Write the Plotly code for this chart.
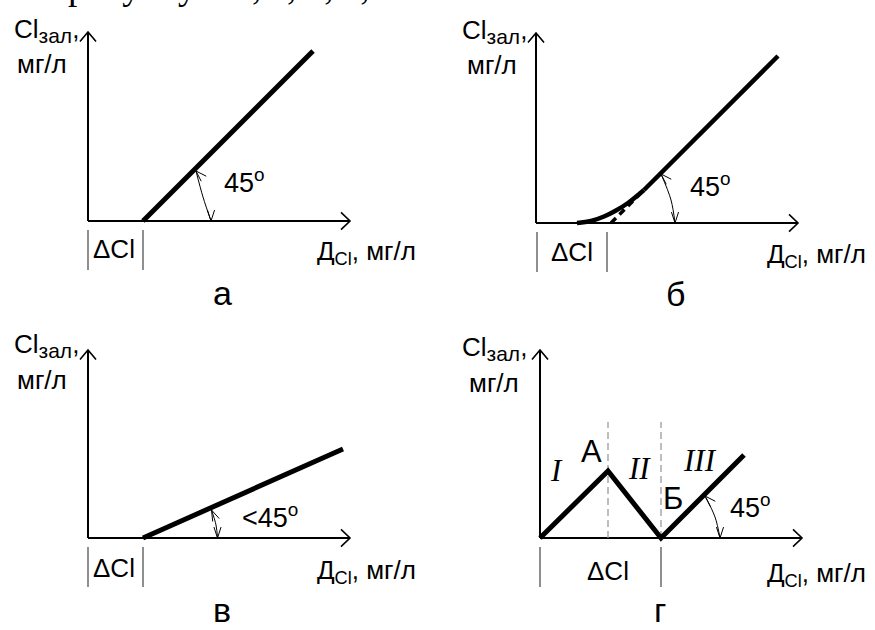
import math
import plotly.graph_objects as go

W, H = 875, 630
PX = 10.0  # screen pixels per chart unit, the same on both axes so slopes keep their angle

SANS = "Liberation Sans, Arial, sans-serif"
SERIF = "Liberation Serif, Times New Roman, serif"
INK = "#000000"

# ---------------- chart data (chart units) ----------------
X_LEN = 26.2                      # length of each Д_Cl axis
Y_LEN = [18.9, 19.0, 18.8, 18.8]  # length of each Cl_зал axis: а, б, в, г

# а: straight 45° rise after the |ΔCl| offset
a_dcl = [0.0, 5.5]
a_x = [5.5, 22.5]
a_y = [0.0, 17.0]

# б: curved start turning into a 45° line, its tangent continued (dashed)
b_dcl = [0.1, 7.1]
b_curve_x = [4.1, 5.5, 6.8, 8.0, 9.2, 10.8]
b_curve_y = [0.0, 0.2, 0.65, 1.25, 2.0, 3.3]
b_line_x = [10.8, 24.2]
b_line_y = [3.3, 16.7]
b_tan_x = [7.5, 10.8]
b_tan_y = [0.0, 3.3]

# в: rise at less than 45°
v_dcl = [0.0, 5.5]
v_x = [5.5, 25.5]
v_y = [0.0, 8.9]

# г: zones I, II, III with break points А and Б
g_dcl = [0.0, 12.1]
g_x = [0.0, 6.8, 12.1, 20.4]
g_y = [0.0, 6.7, 0.0, 8.3]
g_guides = [6.8, 12.1]
g_guide_top = 11.6

# angle markers: arc points from the sloped line down to the Д_Cl axis
a_arc_x, a_arc_y = [10.8, 11.5, 12.3], [5.0, 2.4, 0.0]
b_arc_x, b_arc_y = [12.5, 13.5, 13.9], [4.9, 2.3, 0.0]
v_arc_x, v_arc_y = [12.35, 12.8, 12.95], [2.8, 1.3, 0.0]
g_arc_x, g_arc_y = [16.5, 17.5, 18.0], [4.2, 2.1, 0.0]
arc_slopes = [45.0, 45.0, 24.0, 45.0]   # angle of the line each marker meets

# where each panel's origin sits on the page (px)
ORIGINS = [(88, 221), (536, 223), (88, 538), (540, 538)]

fig = go.Figure()
axes_layout = {}


def suffix(i):
    return "" if i == 1 else str(i)


for i, (ox, oy) in enumerate(ORIGINS, start=1):
    s = suffix(i)
    left, right = ox - 15, ox + 285
    top, bottom = oy - 200, oy + 55
    axes_layout[f"xaxis{s}"] = dict(domain=[left / W, right / W], range=[-1.5, 28.5],
                                    visible=False, anchor=f"y{s}", fixedrange=True)
    axes_layout[f"yaxis{s}"] = dict(domain=[1 - bottom / H, 1 - top / H], range=[-5.5, 20.0],
                                    visible=False, anchor=f"x{s}", fixedrange=True)


def line(i, x, y, width, color=INK, dash="solid", shape="linear"):
    s = suffix(i)
    fig.add_trace(go.Scatter(
        x=x, y=y, mode="lines",
        line=dict(color=color, width=width, dash=dash, shape=shape),
        xaxis=f"x{s}", yaxis=f"y{s}", hoverinfo="skip", showlegend=False))


def vhead(tip, direction, length, half_deg):
    """Open V arrowhead whose apex is at tip, pointing along direction."""
    dx, dy = direction
    n = math.hypot(dx, dy)
    bx, by = -dx / n, -dy / n
    xs, ys = [], []
    for sign in (1, -1):
        a = math.radians(half_deg) * sign
        rx = bx * math.cos(a) - by * math.sin(a)
        ry = bx * math.sin(a) + by * math.cos(a)
        xs.append(tip[0] + length * rx)
        ys.append(tip[1] + length * ry)
    return [xs[0], tip[0], xs[1]], [ys[0], tip[1], ys[1]]


def coord_axes(i):
    ylen = Y_LEN[i - 1]
    line(i, [0, X_LEN], [0, 0], 2)
    line(i, [0, 0], [0, ylen], 2)
    hx, hy = vhead((X_LEN, 0), (1, 0), 1.25, 44)
    line(i, hx, hy, 1.6)
    hx, hy = vhead((0, ylen), (0, 1), 1.25, 40)
    line(i, hx, hy, 1.6)


def dcl_bars(i, xs):
    for xv in xs:
        line(i, [xv, xv], [-0.9, -4.9], 1.1, color="#333333")


def angle_marker(i, ax, ay, slope_deg):
    line(i, ax, ay, 1, shape="spline")
    t = math.radians(slope_deg)
    hx, hy = vhead((ax[0], ay[0]), (-math.sin(t), math.cos(t)), 1.15, 18)
    line(i, hx, hy, 1)
    hx, hy = vhead((ax[-1], ay[-1]), (0, -1), 1.15, 18)
    line(i, hx, hy, 1)


# ---- а ----
coord_axes(1)
dcl_bars(1, a_dcl)
line(1, a_x, a_y, 5)
angle_marker(1, a_arc_x, a_arc_y, arc_slopes[0])

# ---- б ----
coord_axes(2)
dcl_bars(2, b_dcl)
line(2, b_tan_x, b_tan_y, 3.5, dash="7px,5px")
line(2, b_curve_x, b_curve_y, 4.5, shape="spline")
line(2, b_line_x, b_line_y, 4.5)
angle_marker(2, b_arc_x, b_arc_y, arc_slopes[1])

# ---- в ----
coord_axes(3)
dcl_bars(3, v_dcl)
line(3, v_x, v_y, 5)
angle_marker(3, v_arc_x, v_arc_y, arc_slopes[2])

# ---- г ----
coord_axes(4)
dcl_bars(4, g_dcl)
for gx in g_guides:
    line(4, [gx, gx], [0, g_guide_top], 1.3, color="#9a9a9a", dash="7px,4px")
line(4, g_x, g_y, 5)
angle_marker(4, g_arc_x, g_arc_y, arc_slopes[3])

# ---------------- text ----------------
METRICS = {SANS: (0.905, 0.212), SERIF: (0.891, 0.216)}


def text(px_x, px_base, s, size, xanchor="left", family=SANS, kind="plain"):
    asc, desc = METRICS[family]
    if kind == "sub":
        yanchor, y_px = "top", px_base - asc * size - 1
    else:
        yanchor, y_px = "bottom", px_base + desc * size + 1
    fig.add_annotation(x=px_x / W, y=1 - y_px / H, xref="paper", yref="paper",
                       text=s, showarrow=False, xanchor=xanchor, yanchor=yanchor,
                       font=dict(family=family, size=size, color=INK))


def ptext(i, dx, dy, s, size=26, xanchor="left", family=SANS, kind="plain"):
    ox, oy = ORIGINS[i - 1]
    text(ox + dx, oy - dy, s, size, xanchor, family, kind)


Y_TITLE = "Cl<sub><span style=\"font-size:21px\">зал</span></sub>,"
Y_UNIT = "мг/л"
X_TITLE = "Д<sub>Cl</sub>, мг/л"
DCL = "ΔCl"
DEG45 = "45<sup>o</sup>"

# tail of the caption line above the figure
text(65.6, 0, "рисунку 4.3, а, б, в, г.", 37, family=SERIF)

# а
ptext(1, -76, 184, Y_TITLE, kind="sub")
ptext(1, -73, 147, Y_UNIT)
ptext(1, 26, -38, DCL, xanchor="center")
ptext(1, 227, -38, X_TITLE, kind="sub")
ptext(1, 134, 28, DEG45, size=27, kind="sup")
ptext(1, 134, -85, "а", size=34, xanchor="center")

# б
ptext(2, -76, 185, Y_TITLE, kind="sub")
ptext(2, -71, 148, Y_UNIT)
ptext(2, 36, -39, DCL, xanchor="center")
ptext(2, 229, -39, X_TITLE, kind="sub")
ptext(2, 152, 26, DEG45, size=27, kind="sup")
ptext(2, 139, -84, "б", size=34, xanchor="center")

# в
ptext(3, -76, 186, Y_TITLE, kind="sub")
ptext(3, -73, 148, Y_UNIT)
ptext(3, 26, -40, DCL, xanchor="center")
ptext(3, 227, -40, X_TITLE, kind="sub")
ptext(3, 152, 10, "&lt;" + DEG45, size=27, kind="sup")
ptext(3, 134, -85, "в", size=34, xanchor="center")

# г
ptext(4, -80, 183, Y_TITLE, kind="sub")
ptext(4, -73, 145, Y_UNIT)
ptext(4, 68, -43, DCL, xanchor="center")
ptext(4, 225, -43, X_TITLE, kind="sub")
ptext(4, 51, 75, "А", size=31, xanchor="center")
ptext(4, 16, 56, "<i>I</i>", size=31, xanchor="center", family=SERIF)
ptext(4, 99, 58, "<i>II</i>", size=31, xanchor="center", family=SERIF)
ptext(4, 159.5, 66, "<i>III</i>", size=31, xanchor="center", family=SERIF)
ptext(4, 133, 28, "Б", size=31, xanchor="center")
ptext(4, 188, 20, DEG45, size=27, kind="sup")
ptext(4, 120, -85, "г", size=34, xanchor="center")

fig.update_layout(
    width=W, height=H,
    margin=dict(l=0, r=0, t=0, b=0),
    paper_bgcolor="white", plot_bgcolor="white",
    showlegend=False,
    **axes_layout,
)

fig.write_html("out.html", config={"displayModeBar": False})
